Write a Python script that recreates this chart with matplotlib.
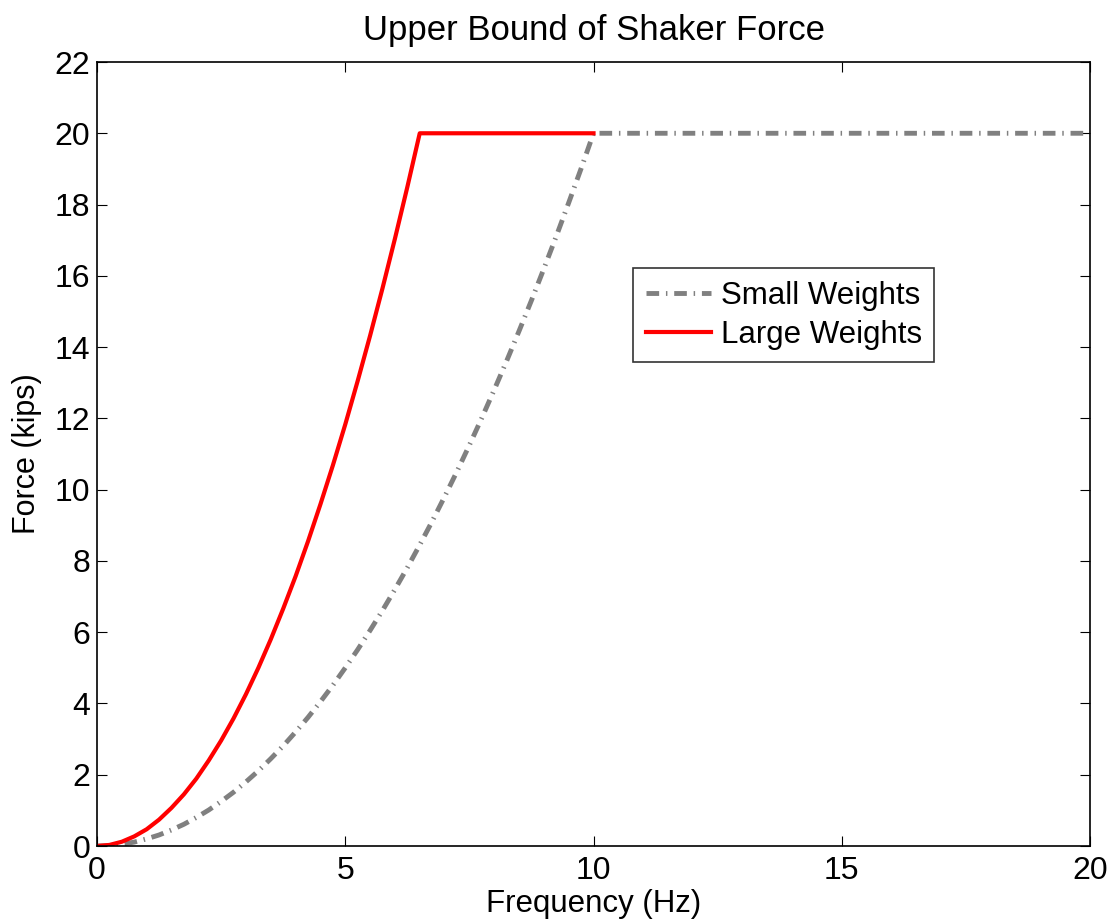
import numpy as np
import matplotlib.pyplot as plt

plt.rcParams['font.family'] = ['Liberation Sans', 'DejaVu Sans']

# Small weights: force (kips) every 0.25 Hz up to 10 Hz, then capped at 20 kips
small_freq = list(np.arange(0, 10.01, 0.25)) + [20]
small_force = [0, 0.01, 0.05, 0.11, 0.2, 0.31, 0.45, 0.61, 0.8, 1.01, 1.25,
               1.51, 1.8, 2.11, 2.45, 2.81, 3.2, 3.61, 4.05, 4.51, 5.0, 5.51,
               6.05, 6.61, 7.2, 7.81, 8.45, 9.11, 9.8, 10.51, 11.25, 12.01,
               12.8, 13.61, 14.45, 15.31, 16.2, 17.11, 18.05, 19.01, 20, 20]

# Large weights: reaches the 20 kip cap at 6.5 Hz, flat to 10 Hz
large_freq = list(np.arange(0, 6.51, 0.25)) + [10]
large_force = [0, 0.03, 0.12, 0.27, 0.47, 0.74, 1.07, 1.45, 1.89, 2.40, 2.96,
               3.58, 4.26, 5.00, 5.80, 6.66, 7.57, 8.55, 9.59, 10.68, 11.83,
               13.05, 14.32, 15.65, 17.04, 18.49, 20, 20]

fig = plt.figure(figsize=(11.15, 9.24), dpi=100)
ax = fig.add_axes([0.087, 0.0844, 0.8906, 0.8485])

ax.plot(small_freq, small_force, color='#808080', linewidth=3.5,
        linestyle=(0, (2.6, 1.4, 0.3, 1.4)), label='Small Weights')
ax.plot(large_freq, large_force, color='red', linewidth=3, label='Large Weights')

ax.set_xlim(0, 20)
ax.set_ylim(0, 22)
ax.set_xticks(np.arange(0, 21, 5))
ax.set_yticks(np.arange(0, 23, 2))
ax.tick_params(direction='in', top=True, right=True, labelsize=23,
               length=7, width=0.8)
ax.tick_params(axis='x', pad=7)
ax.tick_params(axis='y', pad=5)
for s in ax.spines.values():
    s.set_linewidth(1.2)

ax.set_xlabel('Frequency (Hz)', fontsize=22.5)
ax.set_ylabel('Force (kips)', fontsize=22)
ax.xaxis.set_label_coords(0.5, -0.055)
ax.yaxis.set_label_coords(-0.0554, 0.5)
ax.set_title('Upper Bound of Shaker Force', fontsize=25, pad=16)

leg = ax.legend(loc='upper left', bbox_to_anchor=(0.5398, 0.7372),
                borderaxespad=0, fontsize=22.5, frameon=True, fancybox=False,
                handlelength=2.1, borderpad=0.4, labelspacing=0.3,
                handletextpad=0.3)
leg.get_frame().set_edgecolor('black')
leg.get_frame().set_linewidth(1.2)

fig.savefig('out.png', dpi=100)
